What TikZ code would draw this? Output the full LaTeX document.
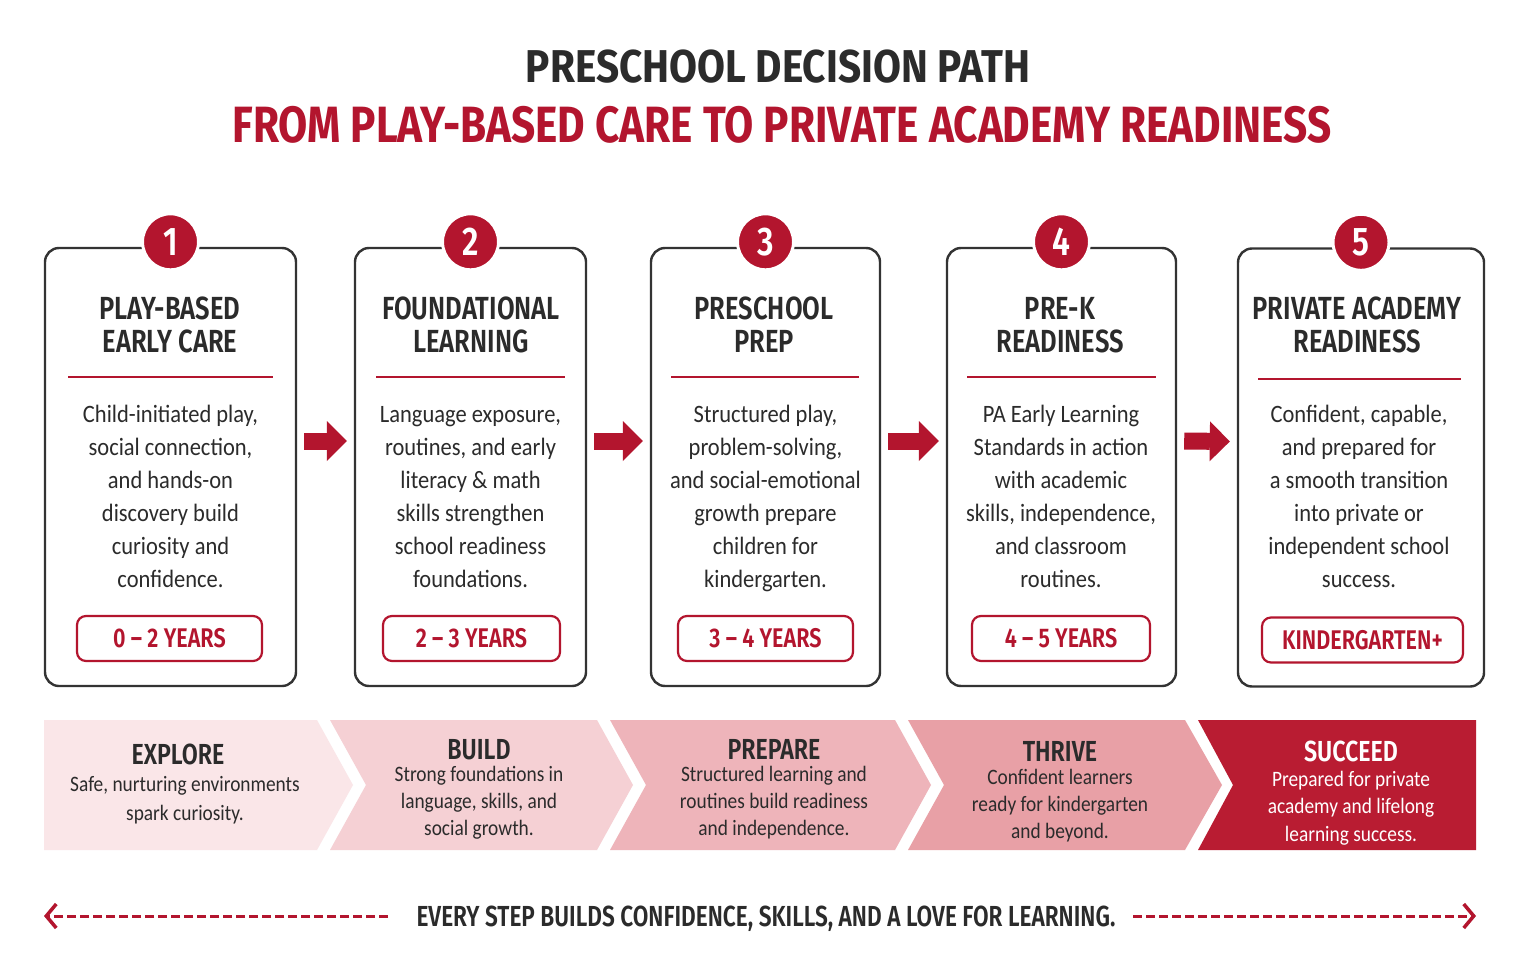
\documentclass[tikz,border=0pt]{standalone}
\usepackage{fontspec}
\setmainfont{Carlito}
\newfontfamily\titlef[FakeStretch=0.88]{Fira Sans}
\newfontfamily\subf[FakeStretch=0.83]{Fira Sans}
\newfontfamily\headf[FakeStretch=0.8, BoldFont={Fira Sans SemiBold}]{Fira Sans}
\newfontfamily\footf[FakeStretch=0.78, BoldFont={Fira Sans SemiBold}]{Fira Sans}
\newfontfamily\bodyf[FakeStretch=0.9]{Carlito}
\newfontfamily\chevf[FakeStretch=0.88]{Carlito}
\usetikzlibrary{arrows.meta}
\definecolor{brand}{HTML}{B3152E}
\definecolor{ink}{HTML}{2B2B2B}
\definecolor{frame}{HTML}{333333}
\definecolor{segA}{HTML}{FAE6E8}
\definecolor{segB}{HTML}{F5D0D4}
\definecolor{segC}{HTML}{EEB4BA}
\definecolor{segD}{HTML}{E8A0A6}
\definecolor{segE}{HTML}{B91C32}
\tikzset{
  stagebox/.style={draw=frame, line width=2.4pt, rounded corners=14pt, fill=white, minimum height=438pt, inner sep=0},
  numdot/.style={circle, fill=brand, draw=white, line width=3pt, minimum size=56pt, inner sep=0, text=white, font=\headf\bfseries\fontsize{40}{40}\selectfont},
  headtxt/.style={anchor=north, inner sep=0, align=center, text=ink, font=\headf\bfseries\fontsize{32}{33}\selectfont},
  bodytxt/.style={anchor=north, inner sep=0, align=center, text=ink, font=\bodyf\fontsize{25}{33}\selectfont},
  sepline/.style={draw=brand, line width=2.2pt},
  agepill/.style={draw=brand, line width=2.2pt, rounded corners=9pt, minimum height=45pt, inner sep=0, text=brand, font=\headf\bfseries\fontsize{27}{27}\selectfont},
  blockarrow/.style={draw=brand, line width=17pt, -{Triangle[length=20pt,width=40pt,line width=0pt]}},
  chevhead/.style={anchor=base, inner sep=0, text=ink, font=\headf\bfseries\fontsize{29}{29}\selectfont},
  chevbody/.style={anchor=north, inner sep=0, align=center, text=ink, font=\chevf\fontsize{22}{27}\selectfont},
  dasharrow/.style={draw=brand, line width=3pt, dash pattern=on 9pt off 4pt, -{Straight Barb[length=10pt,width=24pt,line width=3.5pt]}}
}
\begin{document}
\begin{tikzpicture}[x=1pt,y=-1pt]
\useasboundingbox[fill=white] (0,0) rectangle (1530,976);

% titles
\node[anchor=base, inner sep=0, text=ink, font=\titlef\bfseries\fontsize{46}{46}\selectfont] (title) at (778,83) {PRESCHOOL DECISION PATH};
\node[anchor=base, inner sep=0, text=brand, font=\subf\bfseries\fontsize{51}{51}\selectfont] (subtitle) at (782,143) {FROM PLAY-BASED CARE TO PRIVATE ACADEMY READINESS};

% stage boxes
\node[stagebox, minimum width=251pt] (b1) at (170.5,467) {};
\node[stagebox, minimum width=231pt] (b2) at (470.5,467) {};
\node[stagebox, minimum width=229pt] (b3) at (765.5,467) {};
\node[stagebox, minimum width=229pt] (b4) at (1061.5,467) {};
\node[stagebox, minimum width=246pt] (b5) at (1361,467.5) {};

% number circles
\node[numdot] (c1) at ([yshift=5pt]b1.north) {1};
\node[numdot] (c2) at ([yshift=5pt]b2.north) {2};
\node[numdot] (c3) at ([yshift=5pt]b3.north) {3};
\node[numdot] (c4) at ([yshift=5pt]b4.north) {4};
\node[numdot] (c5) at ([yshift=5pt]b5.north) {5};

% headings
\node[headtxt] (h1) at (170,295) {\rule{0pt}{24pt}PLAY-BASED\\EARLY CARE};
\node[headtxt] (h2) at (471,295) {\rule{0pt}{24pt}FOUNDATIONAL\\LEARNING};
\node[headtxt] (h3) at (764,295) {\rule{0pt}{24pt}PRESCHOOL\\PREP};
\node[headtxt] (h4) at (1060,295) {\rule{0pt}{24pt}PRE-K\\READINESS};
\node[headtxt] (h5) at (1357,295) {\rule{0pt}{24pt}PRIVATE ACADEMY\\READINESS};

% separators
\draw[sepline] (68,377) -- (273,377);
\draw[sepline] (376,377) -- (565,377);
\draw[sepline] (671,377) -- (859,377);
\draw[sepline] (967,377) -- (1156,377);
\draw[sepline] (1258,379) -- (1461,379);

% body texts
\node[bodytxt] (t1) at (170.5,400) {\rule{0pt}{22pt}Child-initiated play,\\social connection,\\and hands-on\\discovery build\\curiosity and\\confidence.};
\node[bodytxt] (t2) at (470.5,400) {\rule{0pt}{22pt}Language exposure,\\routines, and early\\literacy \& math\\skills strengthen\\school readiness\\foundations.};
\node[bodytxt] (t3) at (765.5,400) {\rule{0pt}{22pt}Structured play,\\problem-solving,\\and social-emotional\\growth prepare\\children for\\kindergarten.};
\node[bodytxt] (t4) at (1061,400) {\rule{0pt}{22pt}PA Early Learning\\Standards in action\\with academic\\skills, independence,\\and classroom\\routines.};
\node[bodytxt] (t5) at (1359,400) {\rule{0pt}{22pt}Confident, capable,\\and prepared for\\a smooth transition\\into private or\\independent school\\success.};

% age pills
\node[agepill, minimum width=185pt] (a1) at (169.5,638.5) {0 – 2 YEARS};
\node[agepill, minimum width=177pt] (a2) at (471.5,638.5) {2 – 3 YEARS};
\node[agepill, minimum width=175pt] (a3) at (765.5,638.5) {3 – 4 YEARS};
\node[agepill, minimum width=178pt] (a4) at (1061,638.5) {4 – 5 YEARS};
\node[agepill, minimum width=201pt] (a5) at (1362.5,640) {KINDERGARTEN+};

% arrows between boxes
\draw[blockarrow] ([shift={(7,-26)}]b1.east) -- ([shift={(-7,-26)}]b2.west);
\draw[blockarrow] ([shift={(7,-26)}]b2.east) -- ([shift={(-7,-26)}]b3.west);
\draw[blockarrow] ([shift={(7,-26)}]b3.east) -- ([shift={(-7,-26)}]b4.west);
\draw[blockarrow] ([shift={(7,-26)}]b4.east) -- ([shift={(-7,-26)}]b5.west);

% chevron band
\fill[segA] (44,720) -- (317,720) -- (353,785) -- (317,850) -- (44,850) -- cycle;
\fill[segB] (330,720) -- (597,720) -- (633,785) -- (597,850) -- (330,850) -- (366,785) -- cycle;
\fill[segC] (610,720) -- (895,720) -- (931,785) -- (895,850) -- (610,850) -- (646,785) -- cycle;
\fill[segD] (908,720) -- (1185,720) -- (1222,785) -- (1185,850) -- (908,850) -- (944,785) -- cycle;
\fill[segE] (1198,720) -- (1476,720) -- (1476,850) -- (1198,850) -- (1233,785) -- cycle;

\node[chevhead] (e1) at (178,764) {EXPLORE};
\node[chevbody, font=\chevf\fontsize{22}{29}\selectfont] (f1) at (185,772) {\rule{0pt}{19pt}Safe, nurturing environments\\spark curiosity.};
\node[chevhead] (e2) at (479,759) {BUILD};
\node[chevbody] (f2) at (479,762) {\rule{0pt}{19pt}Strong foundations in\\language, skills, and\\social growth.};
\node[chevhead] (e3) at (774,759) {PREPARE};
\node[chevbody] (f3) at (774,762) {\rule{0pt}{19pt}Structured learning and\\routines build readiness\\and independence.};
\node[chevhead] (e4) at (1060,761) {THRIVE};
\node[chevbody] (f4) at (1060,765) {\rule{0pt}{19pt}Confident learners\\ready for kindergarten\\and beyond.};
\node[chevhead, text=white] (e5) at (1351,761) {SUCCEED};
\node[chevbody, text=white, font=\chevf\fontsize{22}{27.5}\selectfont] (f5) at (1351,767) {\rule{0pt}{19pt}Prepared for private\\academy and lifelong\\learning success.};

% footer
\node[anchor=base, inner sep=0, text=ink, font=\footf\bfseries\fontsize{29}{29}\selectfont] (foot) at (766,926) {EVERY STEP BUILDS CONFIDENCE, SKILLS, AND A LOVE FOR LEARNING.};
\coordinate (ls) at (388,916);
\coordinate (la) at (44,916);
\coordinate (rs) at (1133,916);
\coordinate (ra) at (1476,916);
\draw[dasharrow] (ls) -- (la);
\draw[dasharrow] (rs) -- (ra);
\end{tikzpicture}
\end{document}
